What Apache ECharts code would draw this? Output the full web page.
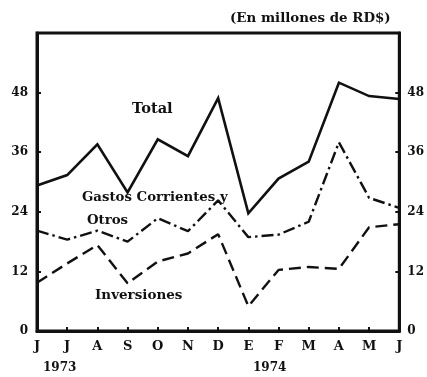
<!DOCTYPE html>
<html>
<head>
<meta charset="utf-8">
<script src="https://cdn.jsdelivr.net/npm/echarts@6/dist/echarts.min.js"></script>
<style>
  html, body { margin: 0; padding: 0; background: #fff; }
  #chart { width: 427px; height: 377px; }
</style>
</head>
<body>
<div id="chart"></div>
<script>
// Months from June 1973 to June 1974 (Spanish initials)
const months = ['J', 'J', 'A', 'S', 'O', 'N', 'D', 'E', 'F', 'M', 'A', 'M', 'J'];

// Monthly values, millions of RD$
const total = [29.3, 31.4, 37.6, 27.9, 38.6, 35.2, 46.9, 23.7, 30.7, 34.1, 50.0, 47.3, 46.7];
const gastosCorrientes = [20.2, 18.4, 20.2, 18.0, 22.7, 20.1, 26.3, 18.9, 19.4, 22.0, 38.0, 26.8, 24.8];
const inversiones = [9.7, 13.6, 17.3, 9.6, 14.0, 15.6, 19.5, 5.0, 12.3, 12.9, 12.5, 20.9, 21.5];

// Value axis ticks
const yMin = 0, yMax = 60, yStep = 12;

const font = '"DejaVu Serif", "Liberation Serif", serif';
const ink = '#111';

const chart = echarts.init(document.getElementById('chart'), null, { renderer: 'canvas' });

const yAxisCommon = {
  type: 'value',
  min: yMin,
  max: yMax,
  interval: yStep,
  splitLine: { show: false },
  axisLine: { show: true, lineStyle: { color: ink, width: 3 } },
  axisTick: { show: true, inside: true, length: 4, lineStyle: { color: ink, width: 2 } },
  axisLabel: {
    color: ink,
    fontFamily: font,
    fontWeight: 'bold',
    fontSize: 12,
    formatter: v => (v === yMax ? '' : String(v))
  }
};

chart.setOption({
  animation: false,
  backgroundColor: '#fff',
  grid: {
    left: 37, right: 27, top: 33, bottom: 46,
    show: true,
    borderColor: ink,
    borderWidth: 3
  },
  xAxis: {
    type: 'category',
    data: months,
    boundaryGap: false,
    axisLine: { show: true, lineStyle: { color: ink, width: 3 } },
    axisTick: { show: true, inside: true, length: 4, alignWithLabel: true, lineStyle: { color: ink, width: 2 } },
    axisLabel: {
      color: ink, fontFamily: font, fontWeight: 'bold', fontSize: 13,
      margin: 9, interval: 0
    }
  },
  yAxis: [
    Object.assign({}, yAxisCommon, { position: 'left', axisLabel: Object.assign({}, yAxisCommon.axisLabel, { margin: 9 }) }),
    Object.assign({}, yAxisCommon, { position: 'right', axisLabel: Object.assign({}, yAxisCommon.axisLabel, { margin: 8 }) })
  ],
  series: [
    {
      name: 'Total', type: 'line', data: total, yAxisIndex: 0,
      symbol: 'none',
      lineStyle: { color: ink, width: 2.6, type: 'solid', join: 'miter' }
    },
    {
      name: 'Gastos Corrientes y Otros', type: 'line', data: gastosCorrientes, yAxisIndex: 0,
      symbol: 'none',
      lineStyle: { color: ink, width: 2.4, type: [12, 4, 2.5, 4] }
    },
    {
      name: 'Inversiones', type: 'line', data: inversiones, yAxisIndex: 0,
      symbol: 'none',
      lineStyle: { color: ink, width: 2.4, type: [12, 6] }
    }
  ],
  graphic: [
    { type: 'text', left: 230, top: 12, style: { text: '(En millones de RD$)', font: 'bold 13.4px ' + font, fill: ink } },
    { type: 'text', left: 132, top: 102, style: { text: 'Total', font: 'bold 14.6px ' + font, fill: ink } },
    { type: 'text', left: 82, top: 191, style: { text: 'Gastos Corrientes y', font: 'bold 13.3px ' + font, fill: ink } },
    { type: 'text', left: 87, top: 214, style: { text: 'Otros', font: 'bold 13.3px ' + font, fill: ink } },
    { type: 'text', left: 95, top: 288, style: { text: 'Inversiones', font: 'bold 13.5px ' + font, fill: ink } },
    { type: 'text', left: 43, top: 362, style: { text: '1973', font: 'bold 12px ' + font, fill: ink } },
    { type: 'text', left: 253, top: 362, style: { text: '1974', font: 'bold 12px ' + font, fill: ink } }
  ]
});
</script>
</body>
</html>
